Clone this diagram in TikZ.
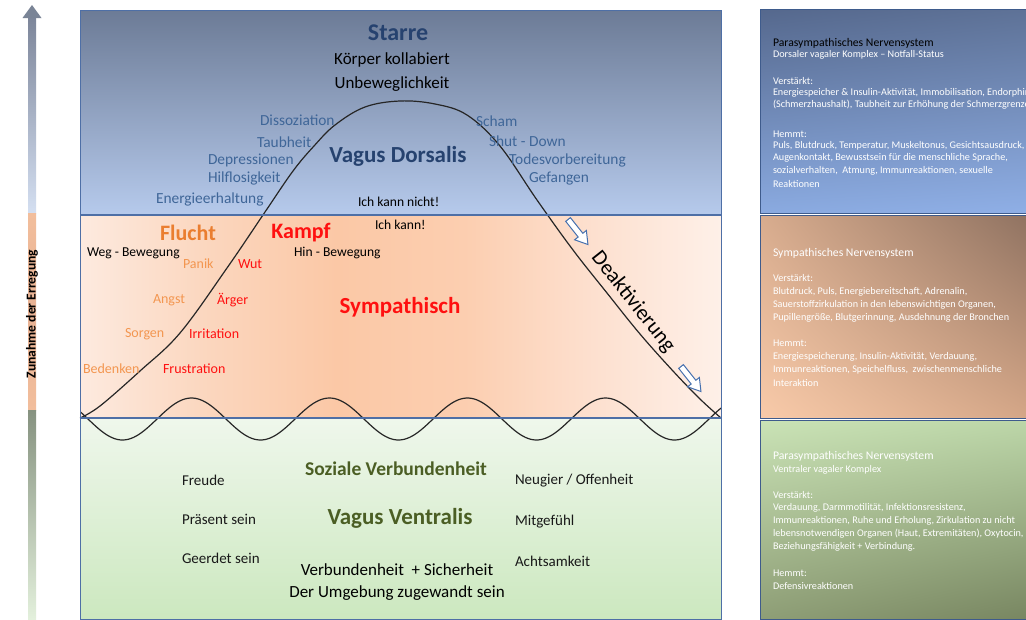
\documentclass[tikz,border=0pt]{standalone}
\usepackage{fontspec}
\setmainfont{Carlito}
\usetikzlibrary{shadings}
\newcommand\myfs[1]{\fontsize{#1}{#1}\selectfont}
\definecolor{dkblue}{HTML}{26426F}
\definecolor{stblue}{HTML}{3F6698}
\definecolor{fluchtc}{HTML}{EA7E30}
\definecolor{lorange}{HTML}{F39650}
\definecolor{redc}{HTML}{FF1010}
\definecolor{olivec}{HTML}{4B5E24}
\definecolor{borderc}{HTML}{4E6FA6}
\definecolor{rborder}{HTML}{3E5B8C}
\definecolor{arrowc}{HTML}{4670AE}
% arrow colours
\definecolor{aTop}{HTML}{7C8599}
\definecolor{aTopB}{HTML}{D4DFF1}
\definecolor{aHead}{HTML}{7A8496}
\definecolor{aPeach}{HTML}{F2BE9C}
\definecolor{aPeachM}{HTML}{E8B294}
\definecolor{aBot}{HTML}{869280}
\definecolor{aBotB}{HTML}{E3F0DC}
% main panel colours
\definecolor{mTopT}{HTML}{6C7B96}
\definecolor{mTopB}{HTML}{B6CAEC}
\definecolor{mBotT}{HTML}{EFF7EC}
\definecolor{mBotB}{HTML}{CCE8BF}
\pgfdeclarehorizontalshading{peachh}{100bp}{%
  rgb(0bp)=(0.992,0.918,0.875);
  rgb(25bp)=(0.992,0.918,0.875);
  rgb(35bp)=(0.985,0.840,0.745);
  rgb(45bp)=(0.984,0.784,0.651);
  rgb(55bp)=(0.988,0.808,0.690);
  rgb(65bp)=(0.992,0.878,0.812);
  rgb(75bp)=(0.996,0.941,0.910);
  rgb(100bp)=(0.996,0.941,0.910)}
% right panel colours
\definecolor{r1ul}{HTML}{55688D}
\definecolor{r1ur}{HTML}{5E7297}
\definecolor{r1ll}{HTML}{8AAAE0}
\definecolor{r1lr}{HTML}{8FAFE6}
\definecolor{r2ul}{HTML}{D8AC8E}
\definecolor{r2ur}{HTML}{8F7261}
\definecolor{r2ll}{HTML}{F8CAA9}
\definecolor{r2lr}{HTML}{D4A687}
\definecolor{r3ul}{HTML}{CAE3B6}
\definecolor{r3ur}{HTML}{BCD6A8}
\definecolor{r3ll}{HTML}{8E9E76}
\definecolor{r3lr}{HTML}{788661}
\begin{document}
\begin{tikzpicture}[x=1pt,y=-1pt,
  every node/.style={inner sep=0pt, outer sep=0pt},
  bluew/.style={anchor=west, font=\myfs{15.4}, text=stblue},
  emoorange/.style={anchor=west, font=\myfs{14}, text=lorange},
  emored/.style={anchor=west, font=\myfs{14}, text=redc},
  blackw/.style={font=\myfs{13.6}, text=black},
  greenw/.style={anchor=west, font=\myfs{15}, text=black!90},
  bigtitle/.style={font=\bfseries\myfs{#1}},
  rtitle/.style={anchor=west, font=\myfs{11.7}},
  rbody/.style={anchor=west, font=\myfs{10.2}, text=white},
  hollowarrow/.style={draw=arrowc, fill=white, line width=1pt, line join=miter},
  curvec/.style={draw=black!85, line width=1.2pt}
]
\useasboundingbox (0,0) rectangle (1026,619);
\fill[white] (0,0) rectangle (1026,619);

% ---------------- left arousal arrow
\shade[top color=aTop, bottom color=aTopB] (28,16) rectangle (36,213);
\fill[aHead] (22.5,18) -- (32,5) -- (41.5,18) -- cycle;
\shade[top color=aPeach, bottom color=aPeach, middle color=aPeachM] (28,213) rectangle (36,410);
\shade[top color=aBot, bottom color=aBotB] (28,410) rectangle (36,619);
\node[rotate=90, font=\bfseries\myfs{13.6}, text=black] (erregung) at (32,314) {Zunahme der Erregung};

% ---------------- main panel backgrounds
\shade[top color=mTopT, bottom color=mTopB] (80,10) rectangle (721,215);
\shade[shading=peachh] (80,215) rectangle (721,418);
\shade[top color=mBotT, bottom color=mBotB] (80,418) rectangle (721,619);

% ---------------- curves
\draw[curvec] plot[smooth, tension=0.6] coordinates {
 (80,418) (100,406) (140,371) (180,333) (227,268) (265,212) (293,171) (314,146)
 (335,125) (365,107) (400,101) (435,104) (467,115) (500,146) (537,200) (573,250)
 (607,293) (640,334) (673,371) (700,399) (721,418)};
\begin{scope}
\clip (80,380) rectangle (721,460);
\draw[curvec] plot[domain=80:721, samples=240] (\x, {419+21*sin(2.6087*(\x-88))});
\end{scope}

% ---------------- main panel borders
\draw[borderc, line width=1pt] (80,10) rectangle (721,619);
\draw[borderc, line width=1.2pt] (80,215) -- (721,215);
\draw[borderc, line width=1.2pt] (80,418) -- (721,418);

% ---------------- top section texts
\node[bigtitle=24, text=dkblue] (starre) at (398,33) {Starre};
\node[font=\myfs{17}, text=black] (koerper) at (392,60) {Körper kollabiert};
\node[font=\myfs{17}, text=black] (unbew) at (392,84) {Unbeweglichkeit};
\node[bluew] (diss) at (260,120) {Dissoziation};
\node[bluew] (taub) at (257,142) {Taubheit};
\node[bluew] (depr) at (208,160) {Depressionen};
\node[bluew] (hilf) at (208,178) {Hilflosigkeit};
\node[bluew] (energ) at (156,199) {Energieerhaltung};
\node[bigtitle=23, text=dkblue] (vdors) at (398,156) {Vagus Dorsalis};
\node[bluew] (scham) at (476,121) {Scham};
\node[bluew] (shut) at (489,141) {Shut - Down};
\node[bluew] (todes) at (509,160) {Todesvorbereitung};
\node[bluew] (gef) at (529,179) {Gefangen};
\node[blackw, anchor=west] (ichnicht) at (358,202) {Ich kann nicht!};

% ---------------- middle section texts
\node[blackw, anchor=west] (ichkann) at (375,225) {Ich kann!};
\node[bigtitle=22, text=fluchtc] (flucht) at (188,233) {Flucht};
\node[bigtitle=22, text=redc] (kampf) at (301,233) {Kampf};
\node[blackw, anchor=west] (weg) at (87,253) {Weg - Bewegung};
\node[blackw, anchor=west] (hin) at (294,253) {Hin - Bewegung};
\node[emoorange] (panik) at (183,264) {Panik};
\node[emored] (wut) at (238,264) {Wut};
\node[emoorange] (angst) at (153,300) {Angst};
\node[emored] (aerger) at (217,300) {Ärger};
\node[emoorange] (sorgen) at (125,334) {Sorgen};
\node[emored] (irr) at (189,334) {Irritation};
\node[emoorange] (bed) at (83,369) {Bedenken};
\node[emored] (frust) at (163,369) {Frustration};
\node[bigtitle=23, text=redc] (symp) at (400,307) {Sympathisch};
\node[rotate=-51.5, font=\myfs{21.5}, text=black] (deakt) at (633,302) {Deaktivierung};
\draw[hollowarrow, shift={(578,232)}, rotate=-51.5]
  (-16,-3) -- (4,-3) -- (4,-7.5) -- (16,0) -- (4,7.5) -- (4,3) -- (-16,3) -- cycle;
\draw[hollowarrow, shift={(691,379)}, rotate=-51.5]
  (-16,-3) -- (4,-3) -- (4,-7.5) -- (16,0) -- (4,7.5) -- (4,3) -- (-16,3) -- cycle;

% ---------------- bottom section texts
\node[bigtitle=19.5, text=olivec] (soz) at (396,469) {Soziale Verbundenheit};
\node[bigtitle=23, text=olivec] (vvent) at (400,518) {Vagus Ventralis};
\node[greenw] (freude) at (182,480) {Freude};
\node[greenw] (praes) at (182,519) {Präsent sein};
\node[greenw] (geerdet) at (182,558) {Geerdet sein};
\node[greenw] (neug) at (515,481) {Neugier / Offenheit};
\node[greenw] (mitg) at (515,522) {Mitgefühl};
\node[greenw] (acht) at (515,561) {Achtsamkeit};
\node[font=\myfs{17}, text=black] (verb) at (397,570) {Verbundenheit\ \ + Sicherheit};
\node[font=\myfs{17}, text=black] (umgeb) at (397,593) {Der Umgebung zugewandt sein};

% ---------------- right panels
\begin{scope}
\clip (759,0) rectangle (1026,619);
\shade[upper left=r1ul, upper right=r1ur, lower left=r1ll, lower right=r1lr] (760,9) rectangle (1030,213);
\shade[upper left=r2ul, upper right=r2ur, lower left=r2ll, lower right=r2lr] (760,215) rectangle (1030,418);
\shade[upper left=r3ul, upper right=r3ur, lower left=r3ll, lower right=r3lr] (760,420) rectangle (1030,619);
\draw[rborder, line width=1pt] (760,9) rectangle (1030,213);
\draw[rborder, line width=1pt] (760,215) rectangle (1030,418);
\draw[rborder, line width=1pt] (760,420) rectangle (1030,619);

\node[rtitle, text=black] (p1a) at (773,43) {Parasympathisches Nervensystem};
\node[rbody] (p1b) at (773,55) {Dorsaler vagaler Komplex – Notfall-Status};
\node[rbody] (p1c) at (773,81) {Verstärkt:};
\node[rbody] (p1d) at (773,93) {Energiespeicher \& Insulin-Aktivität, Immobilisation, Endorphine};
\node[rbody] (p1e) at (773,105) {(Schmerzhaushalt), Taubheit zur Erhöhung der Schmerzgrenze};
\node[rbody] (p1f) at (773,134) {Hemmt:};
\node[rbody] (p1g) at (773,146) {Puls, Blutdruck, Temperatur, Muskeltonus, Gesichtsausdruck,};
\node[rbody] (p1h) at (773,158) {Augenkontakt, Bewusstsein für die menschliche Sprache,};
\node[rbody] (p1i) at (773,171) {sozialverhalten,\ \ Atmung, Immunreaktionen, sexuelle};
\node[rbody] (p1j) at (773,184) {Reaktionen};

\node[rtitle, text=white] (p2a) at (773,253) {Sympathisches Nervensystem};
\node[rbody] (p2b) at (773,278) {Verstärkt:};
\node[rbody] (p2c) at (773,292) {Blutdruck, Puls, Energiebereitschaft, Adrenalin,};
\node[rbody] (p2d) at (773,305) {Sauerstoffzirkulation in den lebenswichtigen Organen,};
\node[rbody] (p2e) at (773,318) {Pupillengröße, Blutgerinnung, Ausdehnung der Bronchen};
\node[rbody] (p2f) at (773,343) {Hemmt:};
\node[rbody] (p2g) at (773,357) {Energiespeicherung, Insulin-Aktivität, Verdauung,};
\node[rbody] (p2h) at (773,370) {Immunreaktionen, Speichelfluss,\ \ zwischenmenschliche};
\node[rbody] (p2i) at (773,383) {Interaktion};

\node[rtitle, text=white] (p3a) at (773,456) {Parasympathisches Nervensystem};
\node[rbody] (p3b) at (773,470) {Ventraler vagaler Komplex};
\node[rbody] (p3c) at (773,495) {Verstärkt:};
\node[rbody] (p3d) at (773,508) {Verdauung, Darmmotilität, Infektionsresistenz,};
\node[rbody] (p3e) at (773,521) {Immunreaktionen, Ruhe und Erholung, Zirkulation zu nicht};
\node[rbody] (p3f) at (773,534) {lebensnotwendigen Organen (Haut, Extremitäten), Oxytocin,};
\node[rbody] (p3g) at (773,547) {Beziehungsfähigkeit + Verbindung.};
\node[rbody] (p3h) at (773,573) {Hemmt:};
\node[rbody] (p3i) at (773,586) {Defensivreaktionen};
\end{scope}
\end{tikzpicture}
\end{document}
